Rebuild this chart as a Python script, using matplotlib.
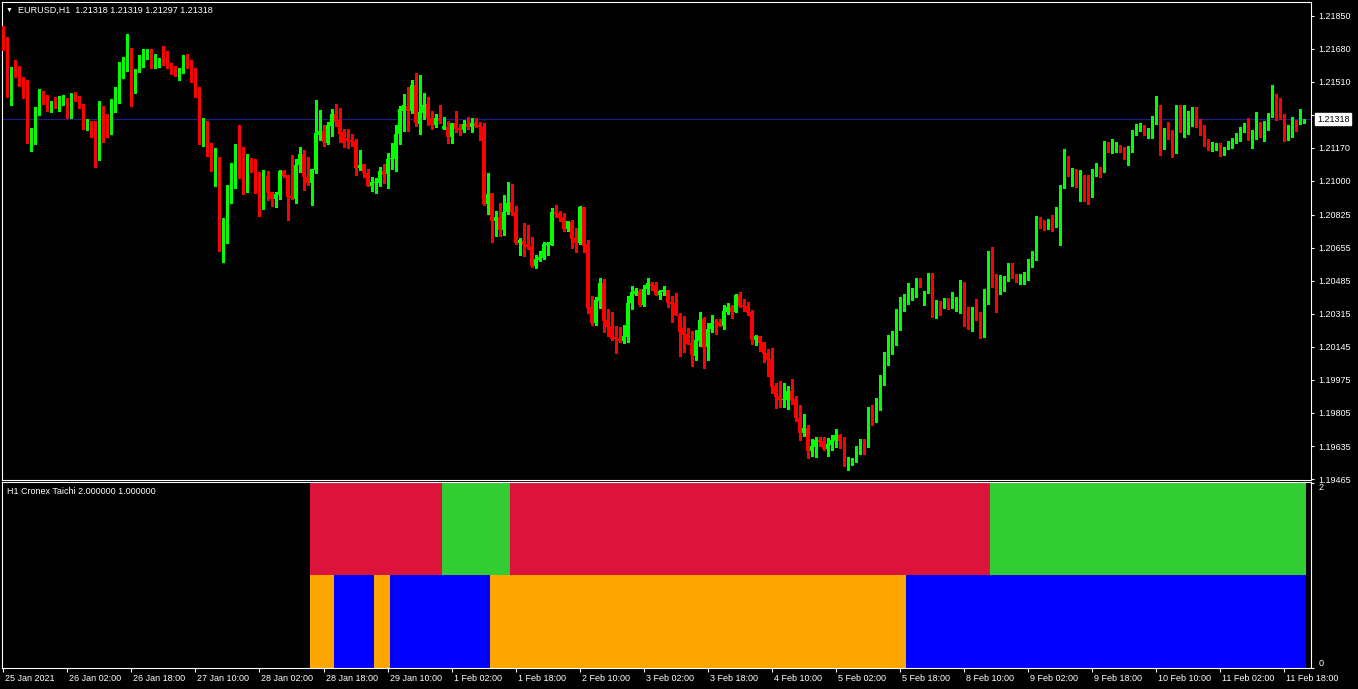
import numpy as np
import matplotlib
matplotlib.use('Agg')
from matplotlib import pyplot as plt
from matplotlib import transforms

# EURUSD H1, one bar per hour, bar 0 = 25 Jan 2021 10:00
# prices in points: price = 1 + pts / 1e5
opens_pts = [
    21794, 21730, 21468, 21571, 21559, 21531, 21468, 21233, 21267, 21344,
    21442, 21425, 21382, 21411, 21377, 21404, 21425, 21334, 21452, 21422,
    21394, 21295, 21301, 21267, 21109, 21380, 21288, 21262, 21365, 21437,
    21566, 21571, 21662, 21454, 21566, 21627, 21639, 21669, 21588, 21605,
    21627, 21617, 21605, 21585, 21562, 21562, 21627, 21622, 21545, 21476,
    21216, 21308, 21159, 21068, 21116, 20644, 20730, 20939, 20996, 21121,
    21087, 21011, 21097, 21076, 21025, 20872, 21025, 20941, 20906, 20927,
    21051, 21030, 20924, 20906, 21081, 21138, 21021, 20987, 21056, 21236,
    21258, 21196, 21284, 21344, 21313, 21253, 21219, 21210, 21205, 21068,
    21087, 21039, 20975, 20991, 20991, 21051, 21035, 21112, 21112, 21241,
    21361, 21385, 21359, 21493, 21293, 21351, 21395, 21325, 21287, 21322,
    21268, 21275, 21224, 21296, 21270, 21262, 21292, 21275, 21296, 21287,
    21275, 20881, 20936, 20795, 20815, 20747, 20839, 20891, 20839, 20682,
    20692, 20675, 20664, 20563, 20592, 20604, 20670, 20670, 20839, 20833,
    20815, 20752, 20788, 20707, 20682, 20867, 20675, 20352, 20270, 20381,
    20476, 20283, 20253, 20198, 20193, 20177, 20198, 20369, 20417, 20434,
    20361, 20441, 20469, 20464, 20412, 20428, 20438, 20378, 20373, 20309,
    20244, 20212, 20163, 20098, 20177, 20287, 20143, 20236, 20275, 20275,
    20253, 20326, 20352, 20326, 20412, 20361, 20356, 20326, 20181, 20201,
    20169, 20112, 20083, 19944, 19892, 19873, 19872, 19918, 19877, 19781,
    19700, 19729, 19609, 19632, 19666, 19661, 19620, 19640, 19662, 19692,
    19666, 19542, 19546, 19558, 19628, 19649, 19632, 19831, 19769, 19846,
    19975, 20078, 20119, 20181, 20236, 20335, 20370, 20425, 20426, 20495,
    20366, 20425, 20485, 20322, 20378, 20356, 20378, 20347, 20361, 20382,
    20407, 20306, 20275, 20323, 20298, 20263, 20370, 20562, 20469, 20443,
    20464, 20495, 20555, 20516, 20486, 20504, 20521, 20579, 20593, 20799,
    20768, 20752, 20776, 20768, 20807, 20970, 21094, 21035, 21048, 20984,
    21018, 20988, 20953, 21042, 21053, 21048, 21180, 21163, 21168, 21185,
    21164, 21142, 21151, 21242, 21262, 21288, 21236, 21262, 21300, 21391,
    21181, 21248, 21242, 21159, 21344, 21266, 21293, 21302, 21382, 21293,
    21288, 21197, 21164, 21173, 21190, 21133, 21164, 21197, 21202, 21211,
    21257, 21296, 21228, 21223, 21300, 21233, 21262, 21348, 21434, 21351,
    21336, 21257, 21262, 21305, 21293, 21318,
]
highs_pts = [
    21797, 21741, 21588, 21622, 21591, 21537, 21519, 21271, 21379, 21473,
    21463, 21442, 21411, 21434, 21437, 21442, 21425, 21452, 21459, 21437,
    21394, 21319, 21308, 21308, 21411, 21387, 21344, 21422, 21483, 21612,
    21638, 21756, 21682, 21576, 21648, 21679, 21679, 21679, 21651, 21634,
    21694, 21669, 21605, 21593, 21579, 21648, 21653, 21622, 21579, 21485,
    21322, 21308, 21193, 21168, 21121, 20807, 20979, 21093, 21190, 21287,
    21172, 21138, 21116, 21112, 21047, 21056, 21051, 20944, 20941, 21056,
    21056, 21030, 21133, 21111, 21172, 21159, 21121, 21061, 21416, 21365,
    21287, 21305, 21368, 21395, 21373, 21265, 21265, 21241, 21214, 21159,
    21087, 21059, 21021, 21013, 21069, 21087, 21142, 21193, 21287, 21385,
    21447, 21485, 21519, 21553, 21545, 21454, 21430, 21359, 21344, 21390,
    21330, 21310, 21299, 21359, 21292, 21313, 21327, 21322, 21322, 21304,
    21299, 21039, 20936, 20845, 20884, 20927, 20994, 20984, 20870, 20704,
    20781, 20773, 20712, 20618, 20639, 20683, 20687, 20862, 20875, 20845,
    20833, 20795, 20798, 20759, 20870, 20867, 20695, 20407, 20404, 20501,
    20495, 20340, 20326, 20253, 20246, 20258, 20407, 20458, 20450, 20441,
    20464, 20501, 20478, 20478, 20438, 20459, 20438, 20407, 20424, 20321,
    20304, 20244, 20229, 20232, 20327, 20297, 20270, 20309, 20287, 20287,
    20361, 20373, 20361, 20417, 20426, 20390, 20378, 20335, 20206, 20201,
    20169, 20133, 20138, 19961, 19970, 19958, 19944, 19980, 19892, 19846,
    19800, 19743, 19671, 19680, 19680, 19680, 19674, 19692, 19722, 19697,
    19680, 19577, 19575, 19635, 19671, 19669, 19837, 19846, 19882, 20000,
    20119, 20207, 20227, 20341, 20404, 20418, 20473, 20447, 20502, 20502,
    20433, 20524, 20524, 20387, 20382, 20395, 20395, 20426, 20404, 20490,
    20478, 20353, 20353, 20392, 20327, 20443, 20639, 20661, 20521, 20516,
    20510, 20579, 20579, 20521, 20521, 20533, 20598, 20639, 20819, 20812,
    20799, 20804, 20824, 20864, 20979, 21164, 21128, 21068, 21060, 21056,
    21030, 21030, 21061, 21091, 21073, 21206, 21202, 21216, 21199, 21185,
    21173, 21180, 21262, 21291, 21300, 21288, 21271, 21334, 21437, 21391,
    21271, 21305, 21262, 21391, 21391, 21391, 21360, 21382, 21382, 21319,
    21288, 21216, 21202, 21197, 21194, 21173, 21207, 21219, 21248, 21276,
    21300, 21322, 21262, 21353, 21305, 21308, 21351, 21494, 21447, 21425,
    21344, 21288, 21331, 21314, 21370, 21319,
]
lows_pts = [
    21674, 21434, 21391, 21537, 21490, 21428, 21197, 21156, 21190, 21339,
    21394, 21360, 21356, 21377, 21360, 21391, 21326, 21326, 21411, 21374,
    21267, 21262, 21228, 21073, 21109, 21202, 21228, 21243, 21356, 21403,
    21531, 21566, 21387, 21454, 21559, 21585, 21627, 21583, 21583, 21588,
    21597, 21579, 21549, 21542, 21519, 21554, 21579, 21511, 21434, 21188,
    21180, 21130, 21053, 20975, 20640, 20584, 20682, 20888, 20965, 21013,
    20930, 20944, 21047, 20939, 20821, 20855, 20901, 20872, 20867, 20906,
    21021, 20798, 20906, 20888, 21047, 20953, 20979, 20876, 21042, 21210,
    21179, 21190, 21231, 21284, 21202, 21172, 21167, 21179, 21030, 21056,
    21018, 20975, 20949, 20939, 20975, 20991, 20965, 21059, 21052, 21190,
    21258, 21258, 21347, 21282, 21241, 21317, 21287, 21267, 21279, 21299,
    21265, 21196, 21193, 21253, 21236, 21253, 21268, 21253, 21279, 21210,
    20875, 20829, 20687, 20716, 20716, 20721, 20827, 20824, 20675, 20618,
    20613, 20649, 20558, 20553, 20587, 20597, 20618, 20670, 20815, 20795,
    20743, 20742, 20656, 20635, 20673, 20635, 20318, 20258, 20258, 20347,
    20223, 20201, 20181, 20115, 20172, 20167, 20172, 20340, 20412, 20357,
    20357, 20416, 20438, 20412, 20390, 20412, 20349, 20275, 20309, 20098,
    20121, 20160, 20047, 20078, 20151, 20038, 20078, 20224, 20212, 20253,
    20236, 20314, 20296, 20326, 20352, 20330, 20309, 20160, 20155, 20124,
    20069, 19995, 19910, 19832, 19837, 19837, 19825, 19851, 19765, 19666,
    19686, 19575, 19585, 19580, 19635, 19614, 19583, 19614, 19632, 19623,
    19532, 19513, 19537, 19551, 19594, 19594, 19628, 19743, 19759, 19820,
    19949, 20052, 20110, 20155, 20232, 20330, 20366, 20387, 20404, 20455,
    20361, 20421, 20301, 20296, 20310, 20347, 20341, 20344, 20330, 20322,
    20255, 20238, 20227, 20284, 20193, 20198, 20366, 20455, 20327, 20418,
    20433, 20486, 20502, 20478, 20469, 20469, 20490, 20558, 20593, 20756,
    20747, 20752, 20742, 20764, 20670, 20965, 21027, 20974, 20970, 20897,
    20898, 20881, 20919, 21025, 21018, 21048, 21151, 21142, 21151, 21151,
    21113, 21082, 21147, 21236, 21259, 21236, 21223, 21223, 21293, 21133,
    21164, 21216, 21125, 21142, 21250, 21228, 21242, 21283, 21276, 21236,
    21180, 21159, 21154, 21159, 21128, 21133, 21164, 21171, 21197, 21206,
    21254, 21211, 21171, 21216, 21228, 21207, 21262, 21331, 21314, 21319,
    21207, 21211, 21228, 21257, 21293, 21297,
]
closes_pts = [
    21720, 21473, 21571, 21559, 21528, 21463, 21233, 21271, 21348, 21442,
    21422, 21382, 21411, 21387, 21422, 21422, 21334, 21452, 21416, 21394,
    21295, 21308, 21262, 21104, 21380, 21279, 21259, 21374, 21437, 21566,
    21579, 21662, 21454, 21571, 21634, 21643, 21669, 21583, 21605, 21627,
    21619, 21600, 21583, 21562, 21571, 21627, 21619, 21545, 21476, 21216,
    21308, 21156, 21073, 21121, 20640, 20730, 20932, 21004, 21121, 21081,
    21011, 21107, 21076, 21021, 20876, 21025, 20939, 20905, 20932, 21051,
    21027, 20918, 20913, 21081, 21138, 21018, 20991, 21061, 21244, 21258,
    21202, 21287, 21344, 21301, 21241, 21196, 21205, 21202, 21068, 21081,
    21039, 20975, 20994, 20994, 21051, 21030, 21112, 21116, 21241, 21368,
    21390, 21361, 21493, 21296, 21353, 21390, 21325, 21287, 21325, 21310,
    21282, 21224, 21296, 21267, 21262, 21292, 21275, 21296, 21282, 21279,
    20881, 20932, 20795, 20815, 20747, 20839, 20887, 20839, 20678, 20695,
    20670, 20661, 20563, 20597, 20608, 20675, 20682, 20839, 20829, 20807,
    20752, 20795, 20702, 20682, 20867, 20666, 20347, 20270, 20386, 20476,
    20280, 20246, 20186, 20186, 20177, 20201, 20373, 20429, 20434, 20361,
    20441, 20472, 20460, 20412, 20433, 20438, 20373, 20366, 20309, 20224,
    20206, 20160, 20103, 20181, 20284, 20141, 20237, 20270, 20266, 20253,
    20330, 20352, 20326, 20412, 20357, 20352, 20321, 20181, 20201, 20167,
    20109, 20078, 19940, 19889, 19872, 19877, 19918, 19872, 19781, 19700,
    19729, 19609, 19635, 19666, 19657, 19620, 19645, 19666, 19692, 19661,
    19542, 19554, 19563, 19632, 19661, 19632, 19832, 19769, 19846, 19975,
    20078, 20155, 20186, 20250, 20347, 20378, 20426, 20438, 20495, 20490,
    20426, 20485, 20322, 20382, 20358, 20387, 20347, 20366, 20392, 20407,
    20306, 20279, 20323, 20298, 20258, 20375, 20567, 20464, 20443, 20469,
    20502, 20555, 20516, 20490, 20512, 20521, 20581, 20598, 20794, 20768,
    20752, 20776, 20764, 20807, 20979, 21094, 21039, 21053, 20984, 21017,
    20984, 20953, 21044, 21051, 21049, 21185, 21163, 21171, 21185, 21156,
    21142, 21154, 21242, 21271, 21288, 21236, 21266, 21302, 21391, 21181,
    21245, 21236, 21159, 21344, 21266, 21305, 21310, 21382, 21293, 21279,
    21190, 21164, 21180, 21190, 21133, 21173, 21202, 21211, 21216, 21262,
    21293, 21228, 21231, 21296, 21233, 21266, 21351, 21434, 21348, 21331,
    21257, 21267, 21305, 21293, 21326, 21318,
]

last_bar = "1.21318 1.21319 1.21297 1.21318"
current_price = 1.21318

# Cronex Taichi: first bar drawn, then (state, number of bars) runs
taichi_start = 77
taichi_upper = [(-1, 33), (1, 17), (-1, 120), (1, 79)]
taichi_lower = [(-1, 6), (1, 10), (-1, 4), (1, 25), (-1, 104), (1, 100)]

time_labels = ['25 Jan 2021', '26 Jan 02:00', '26 Jan 18:00', '27 Jan 10:00',
               '28 Jan 02:00', '28 Jan 18:00', '29 Jan 10:00', '1 Feb 02:00',
               '1 Feb 18:00', '2 Feb 10:00', '3 Feb 02:00', '3 Feb 18:00',
               '4 Feb 10:00', '5 Feb 02:00', '5 Feb 18:00', '8 Feb 10:00',
               '9 Feb 02:00', '9 Feb 18:00', '10 Feb 10:00', '11 Feb 02:00',
               '11 Feb 18:00']
label_step = 16

# 1.21340 sits under the current price tag, so it gets a tick but no text
price_ticks = [1.21850, 1.21680, 1.21510, 1.21340, 1.21170, 1.21000, 1.20825,
               1.20655, 1.20485, 1.20315, 1.20145, 1.19975, 1.19805, 1.19635,
               1.19465]


O = 1 + np.array(opens_pts) / 1e5
Hh = 1 + np.array(highs_pts) / 1e5
L = 1 + np.array(lows_pts) / 1e5
C = 1 + np.array(closes_pts) / 1e5
n = len(C)
x = np.arange(n)

plt.rcParams['font.family'] = ['Liberation Sans', 'DejaVu Sans']
FS = 6.5
W, H = 1358, 689
fig = plt.figure(figsize=(W / 100, H / 100), dpi=100, facecolor='black')

def box(l, t, r, b):
    return [l / W, 1 - b / H, (r - l) / W, (b - t) / H]

ax = fig.add_axes(box(2, 2, 1311, 480))
ax2 = fig.add_axes(box(2, 482, 1311, 667.5), sharex=ax)

for a in (ax, ax2):
    a.set_facecolor('black')
    for s in a.spines.values():
        s.set_color('white')
        s.set_linewidth(0.8)

# candles
up = C >= O
cols = np.where(up, '#00ff00', '#ff0000')
ax.vlines(x, L, Hh, colors=cols, lw=0.75, antialiased=False, zorder=3)
body_lo = np.minimum(O, C)
body_h = np.maximum(np.abs(C - O), 0.00002)
ax.bar(x, body_h, bottom=body_lo, width=0.72, color=cols, linewidth=0,
       antialiased=False, zorder=4)

ax.axhline(current_price, color='#1e1e8c', lw=0.8, zorder=2)

ax.set_xlim(-0.325, 326.675)
ax.set_ylim(1.19460, 1.219207)
ax.yaxis.tick_right()
ax.set_yticks(price_ticks)
ax.set_yticklabels(['' if abs(p - 1.21340) < 1e-9 else '%.5f' % p for p in price_ticks])
ax.tick_params(axis='y', colors='white', labelsize=FS, length=2.2, width=0.8,
               pad=3, direction='out')
ax.tick_params(axis='x', bottom=False, labelbottom=False)

# current price tag on the scale
tr = transforms.blended_transform_factory(ax.transAxes, ax.transData)
ax.text(1.0, current_price, '%.5f' % current_price,
        transform=tr + transforms.ScaledTranslation(0.06, 0, fig.dpi_scale_trans),
        ha='left', va='center', fontsize=FS, color='black', zorder=10,
        bbox=dict(boxstyle='square,pad=0.2', fc='white', ec='white'),
        clip_on=False)

# indicator window
def expand(runs):
    out = []
    for state, cnt in runs:
        out += [state] * cnt
    return np.array(out)

up_state = expand(taichi_upper)
lo_state = expand(taichi_lower)
xi = taichi_start + np.arange(len(up_state))
ax2.bar(xi, 1, bottom=1, width=1.0, linewidth=0, antialiased=False,
        color=np.where(up_state > 0, '#32cd32', '#dc143c'))
ax2.bar(xi, 1, bottom=0, width=1.0, linewidth=0, antialiased=False,
        color=np.where(lo_state > 0, '#0000ff', '#ffa500'))
ax2.set_ylim(0, 2.011)
ax2.yaxis.tick_right()
ax2.set_yticks([0, 2])
ax2.set_yticklabels(['0', '2'])
ax2.tick_params(axis='y', colors='white', labelsize=FS, length=2.2, width=0.8, pad=3)
yl = ax2.get_yticklabels()
yl[0].set_va('bottom')
yl[1].set_va('top')

ax2.set_xticks(np.arange(len(time_labels)) * label_step)
ax2.set_xticklabels(time_labels)
ax2.tick_params(axis='x', colors='white', labelsize=FS, length=3, width=0.8,
                pad=1.5, direction='out')
shift = transforms.ScaledTranslation(0.02, 0, fig.dpi_scale_trans)
for lbl in ax2.get_xticklabels():
    lbl.set_ha('left')
    lbl.set_transform(lbl.get_transform() + shift)

ax2.text(5 / 1309, 1 - 9 / 185.5, 'H1 Cronex Taichi 2.000000 1.000000',
         transform=ax2.transAxes, color='white', fontsize=FS, va='center', ha='left')

# header
fig.text(6 / W, 1 - 10 / H, '\u25bc', color='white', fontsize=5, va='center', ha='left')
fig.text(18 / W, 1 - 10 / H, 'EURUSD,H1  ' + last_bar, color='white', fontsize=FS,
         va='center', ha='left')

fig.savefig('out.png', dpi=100, facecolor='black')
